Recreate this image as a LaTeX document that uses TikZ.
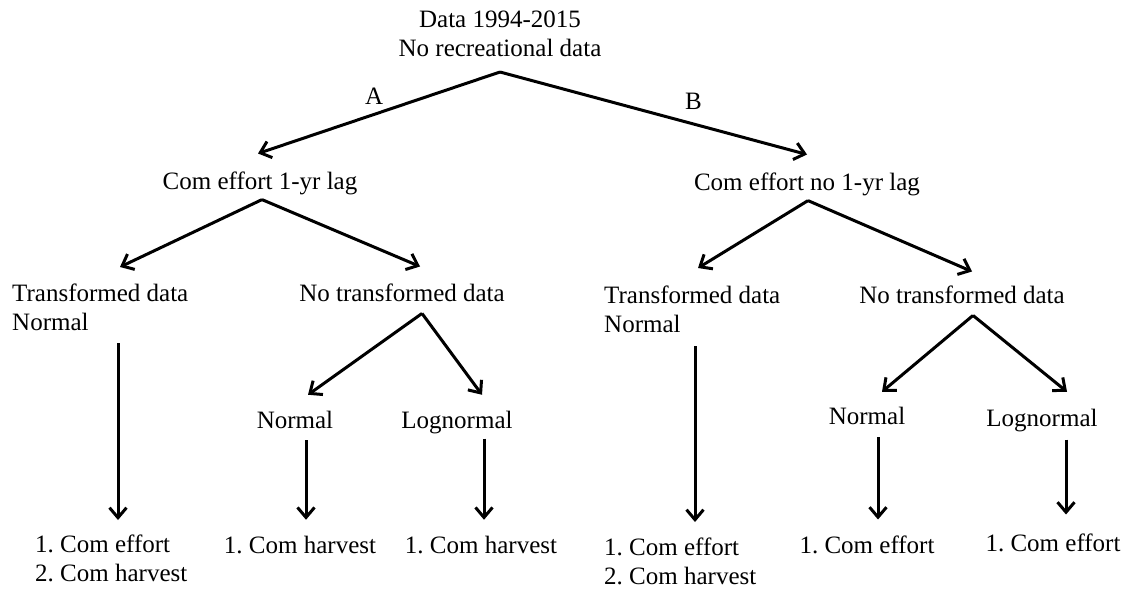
\documentclass[tikz,border=0pt]{standalone}
\usepackage{fontspec}
\setmainfont{Liberation Serif}
\usetikzlibrary{arrows.meta}

\tikzset{
  txt/.style={inner sep=0pt,font=\fontsize{25}{29}\selectfont\frenchspacing},
  flecha/.style={->,line width=3pt},
}

\begin{document}
\begin{tikzpicture}[x=1pt,y=-1pt,>={Straight Barb[length=10pt,width=17pt]}]
  \useasboundingbox (0,0) rectangle (1131,590);
  % raiz
  \node[txt,align=center,anchor=south] (raiz) at (500,57) {Data 1994-2015\\No recreational data};
  % nivel 1
  \node[txt,anchor=base] (lagA) at (260,189) {Com effort 1-yr lag};
  \node[txt,anchor=base] (lagB) at (807,190) {Com effort no 1-yr lag};
  % nivel 2
  \node[txt,align=left,anchor=north west] (trA) at (12,284) {Transformed data\\Normal};
  \node[txt,anchor=base] (ntA) at (402,301) {No transformed data};
  \node[txt,align=left,anchor=north west] (trB) at (604,286) {Transformed data\\Normal};
  \node[txt,anchor=base] (ntB) at (962,303) {No transformed data};
  % nivel 3
  \node[txt,anchor=base] (nA) at (295,428) {Normal};
  \node[txt,anchor=base] (lA) at (457,428) {Lognormal};
  \node[txt,anchor=base] (nB) at (867,424) {Normal};
  \node[txt,anchor=base] (lB) at (1042,426) {Lognormal};
  % covariables
  \node[txt,align=left,anchor=north west] (outA1) at (35,535) {1. Com effort\\2. Com harvest};
  \node[txt,anchor=base] (outA2) at (300,553) {1. Com harvest};
  \node[txt,anchor=base] (outA3) at (481,553) {1. Com harvest};
  \node[txt,align=left,anchor=north west] (outB1) at (604,538) {1. Com effort\\2. Com harvest};
  \node[txt,anchor=base] (outB2) at (867,553) {1. Com effort};
  \node[txt,anchor=base] (outB3) at (1053,551) {1. Com effort};
  % flechas
  \draw[flecha] ([yshift=-15pt]raiz.south) -- ([xshift=-2pt,yshift=17.7pt]lagA.north)
    node[txt,pos=0.52,yshift=18pt] {A};
  \draw[flecha] ([yshift=-15pt]raiz.south) -- ([yshift=17.7pt]lagB.north)
    node[txt,pos=0.63,yshift=23pt] {B};
  \draw[flecha] ([xshift=2pt,yshift=-5pt]lagA.south) -- ([xshift=108pt,yshift=17pt]trA.north west);
  \draw[flecha] ([xshift=2pt,yshift=-5pt]lagA.south) -- ([xshift=18pt,yshift=16.7pt]ntA.north);
  \draw[flecha] ([xshift=1pt,yshift=-5pt]lagB.south) -- ([xshift=94pt,yshift=18pt]trB.north west);
  \draw[flecha] ([xshift=1pt,yshift=-5pt]lagB.south) -- ([xshift=10pt,yshift=13.7pt]ntB.north);
  \draw[flecha] ([xshift=106pt,yshift=-12pt]trA.south west) -- ([xshift=83pt,yshift=15pt]outA1.north west);
  \draw[flecha] ([xshift=20pt,yshift=-12pt]ntA.south) -- ([xshift=13pt,yshift=15.7pt]nA.north);
  \draw[flecha] ([xshift=20pt,yshift=-12pt]ntA.south) -- ([xshift=25pt,yshift=15.7pt]lA.north);
  \draw[flecha] ([xshift=11pt,yshift=-12pt]nA.south) -- ([xshift=6pt,yshift=15.7pt]outA2.north);
  \draw[flecha] ([xshift=27pt,yshift=-5pt]lA.south) -- ([xshift=3pt,yshift=15.7pt]outA3.north);
  \draw[flecha] ([xshift=91pt,yshift=-13pt]trB.south west) -- ([xshift=91pt,yshift=16pt]outB1.north west);
  \draw[flecha] ([xshift=11pt,yshift=-12pt]ntB.south) -- ([xshift=15pt,yshift=14.7pt]nB.north);
  \draw[flecha] ([xshift=11pt,yshift=-12pt]ntB.south) -- ([xshift=25pt,yshift=16.7pt]lB.north);
  \draw[flecha] ([xshift=11pt,yshift=-13pt]nB.south) -- ([xshift=11pt,yshift=15.7pt]outB2.north);
  \draw[flecha] ([xshift=24pt,yshift=-8pt]lB.south) -- ([xshift=13pt,yshift=18.7pt]outB3.north);
\end{tikzpicture}
\end{document}
